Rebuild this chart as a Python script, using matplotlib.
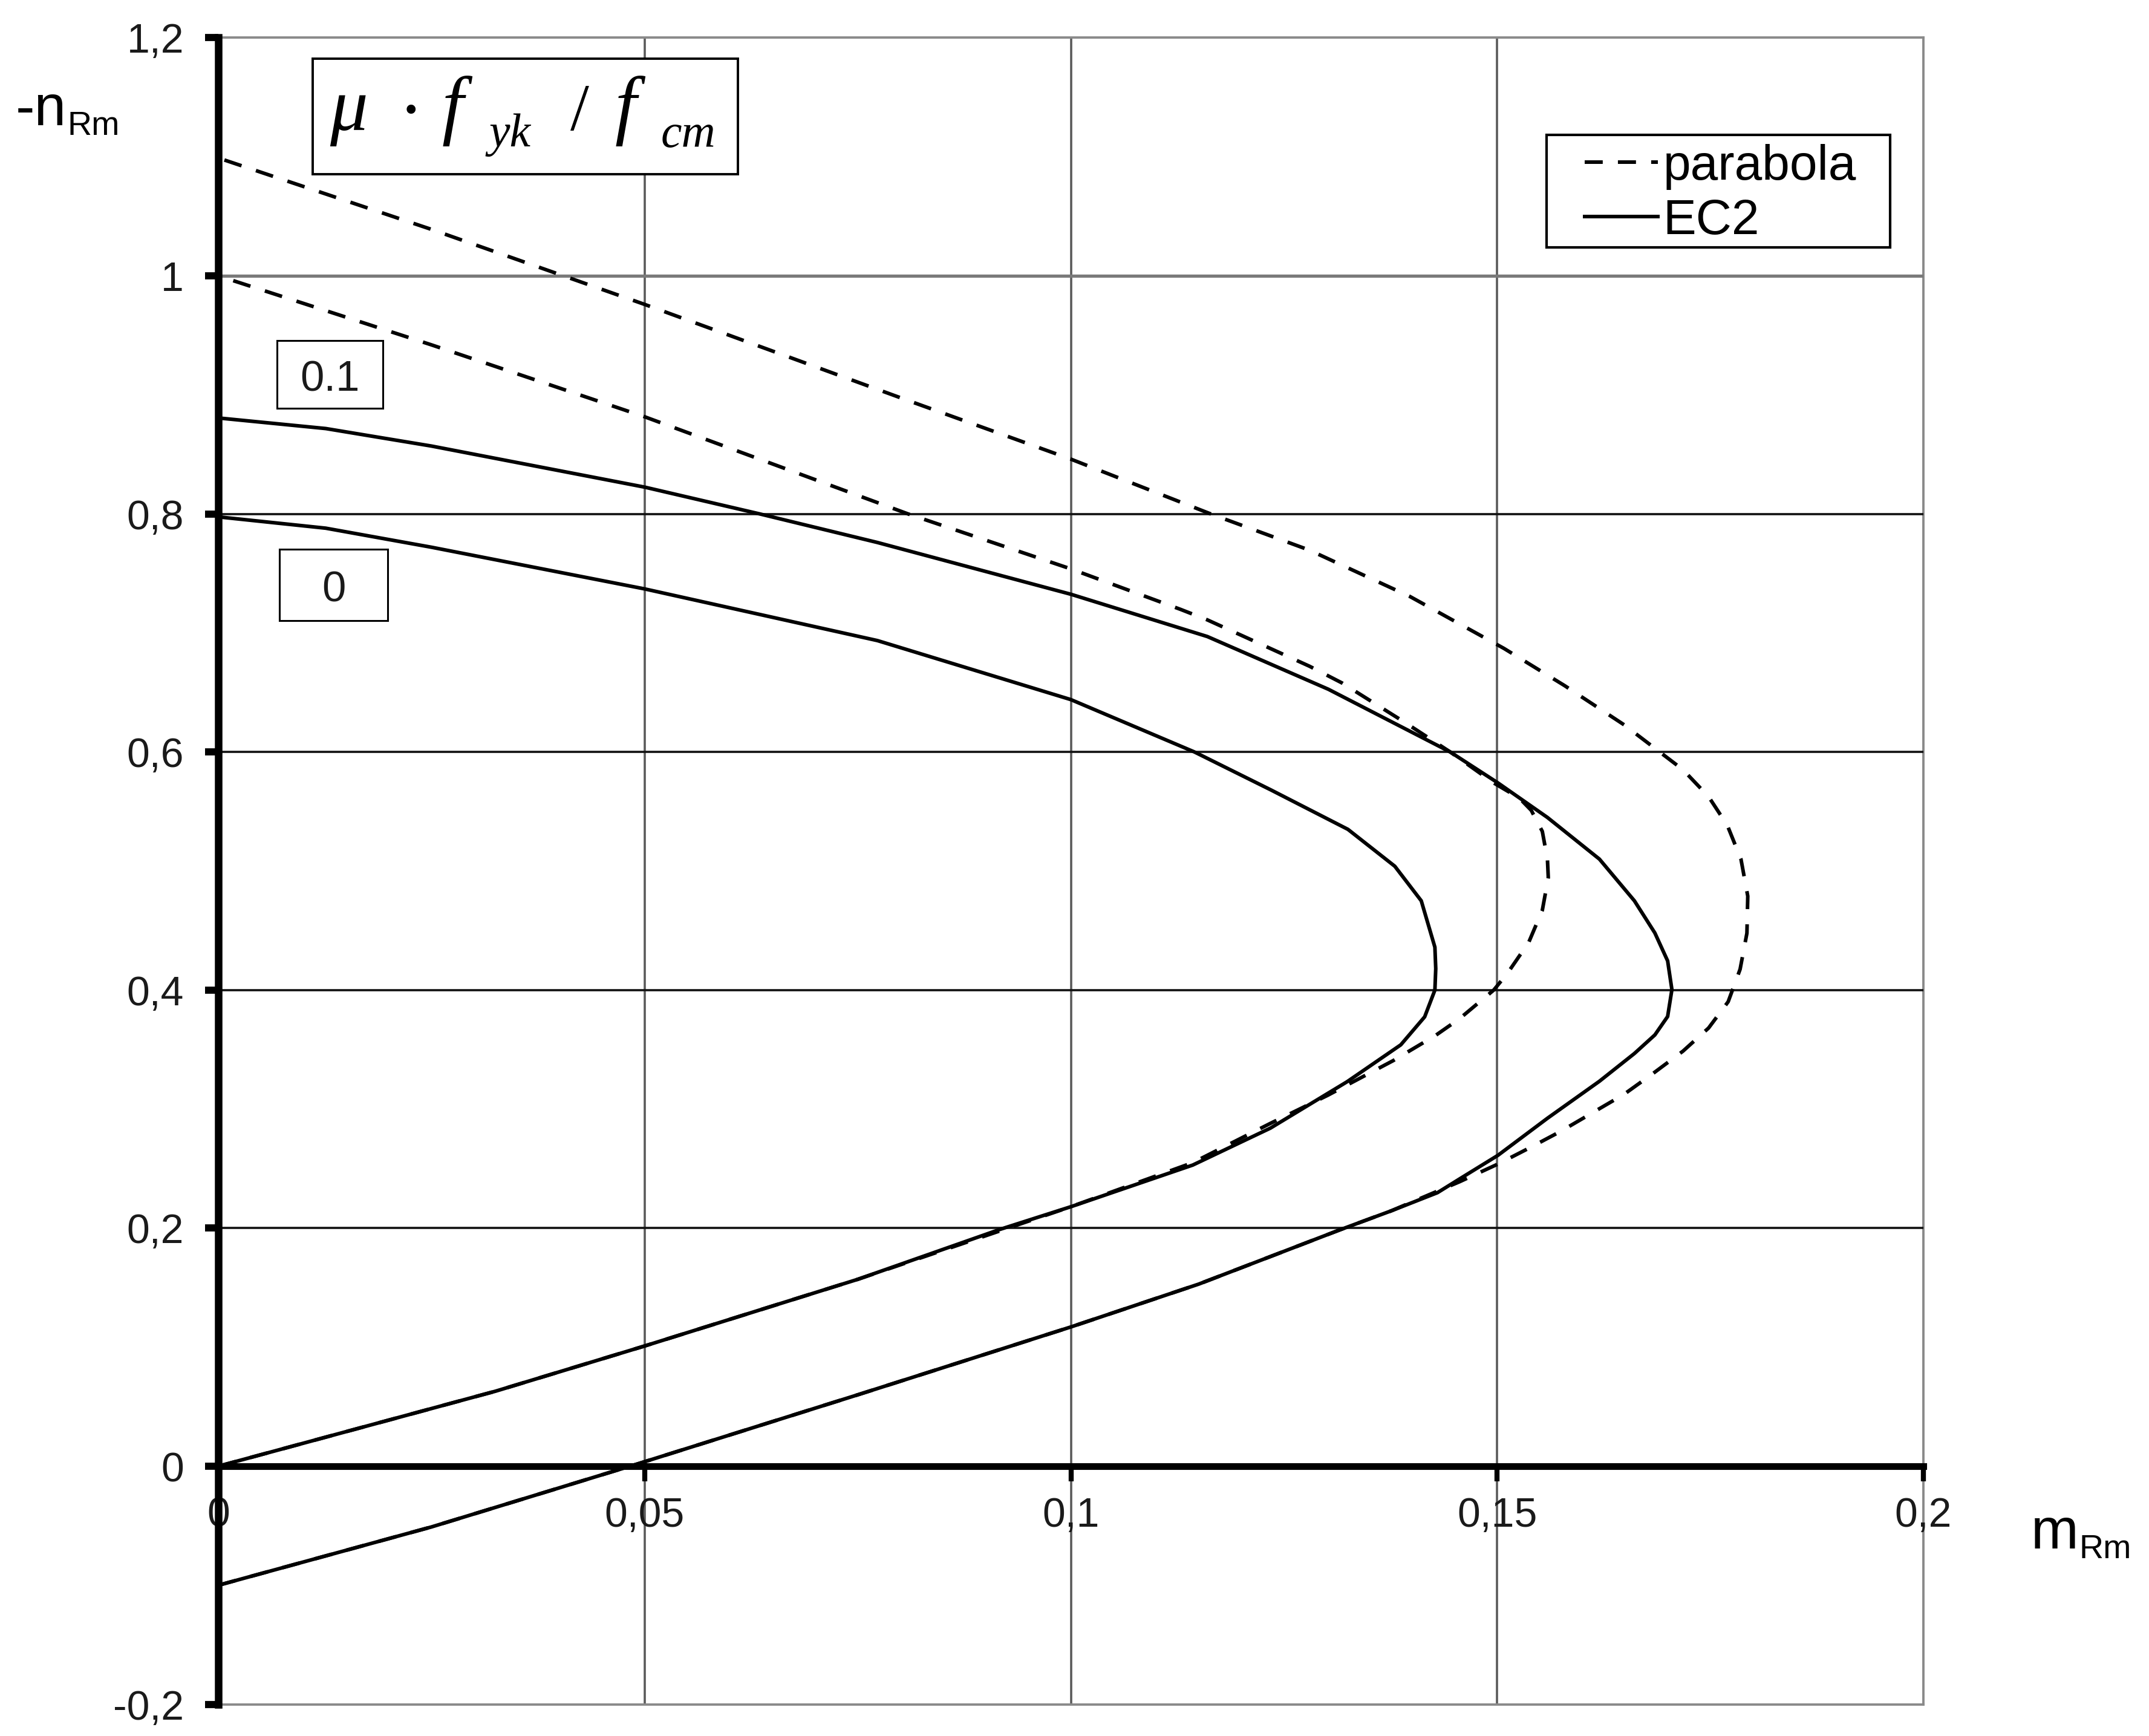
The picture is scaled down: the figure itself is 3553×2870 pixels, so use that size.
import matplotlib
matplotlib.use("Agg")
import matplotlib.pyplot as plt
from matplotlib.patches import Rectangle
from matplotlib import font_manager

plt.rcParams["font.family"] = ["Liberation Sans", "DejaVu Sans"]

# --- data (m_Rm, -n_Rm) ---
# EC2, mu*fyk/fcm = 0
m_ec2_0 = [0, 0.0325, 0.05, 0.075, 0.0917, 0.1, 0.1143, 0.1234, 0.1324, 0.1387,
           0.1415, 0.1427, 0.1428, 0.1427, 0.1411, 0.138, 0.1325, 0.1235, 0.1145,
           0.1, 0.0773, 0.05, 0.025, 0.0126, 0]
n_ec2_0 = [0, 0.063, 0.101, 0.157, 0.199, 0.218, 0.253, 0.284, 0.323, 0.354,
           0.3775, 0.40, 0.418, 0.436, 0.475, 0.504, 0.535, 0.568, 0.60,
           0.644, 0.6936, 0.737, 0.772, 0.788, 0.7975]

# EC2, mu*fyk/fcm = 0.1
m_ec2_1 = [0, 0.025, 0.0492, 0.075, 0.1, 0.115, 0.1316, 0.1376, 0.143, 0.1457,
           0.1501, 0.1559, 0.162, 0.1661, 0.1685, 0.170, 0.1705, 0.170, 0.1685,
           0.1661, 0.162, 0.1559, 0.1501, 0.1445, 0.1302, 0.116, 0.1, 0.0773,
           0.0635, 0.05, 0.025, 0.0126, 0]
n_ec2_1 = [-0.1, -0.051, 0.002, 0.06, 0.117, 0.153, 0.1987, 0.2146, 0.2298, 0.2418,
           0.2612, 0.2923, 0.3234, 0.3467, 0.3623, 0.3778, 0.4004, 0.4245, 0.448,
           0.475, 0.510, 0.545, 0.574, 0.600, 0.6527, 0.697, 0.7325, 0.776,
           0.80, 0.8225, 0.857, 0.8717, 0.8806]

# parabola, mu*fyk/fcm = 0
m_par_0 = [0, 0.0325, 0.05, 0.075, 0.1, 0.1143, 0.1234, 0.1301, 0.1378, 0.1428,
           0.1456, 0.1496, 0.1512, 0.1537, 0.1553, 0.156, 0.1559, 0.1553, 0.154,
           0.1526, 0.1496, 0.1445, 0.1391, 0.1318, 0.128, 0.116, 0.1129, 0.1,
           0.0809, 0.05, 0.025, 0]
n_par_0 = [0, 0.063, 0.101, 0.157, 0.218, 0.255, 0.288, 0.3115, 0.3407, 0.362,
           0.376, 0.40, 0.414, 0.440, 0.467, 0.4945, 0.510, 0.5333, 0.551,
           0.5613, 0.574, 0.60, 0.6252, 0.658, 0.672, 0.711, 0.7197, 0.7538,
           0.80, 0.8816, 0.942, 1.0]

# parabola, mu*fyk/fcm = 0.1
m_par_1 = [0, 0.025, 0.0492, 0.075, 0.1, 0.115, 0.1316, 0.1376, 0.1456, 0.1502,
           0.1539, 0.1575, 0.1612, 0.1649, 0.1683, 0.1718, 0.1748, 0.1771, 0.1785,
           0.1793, 0.1794, 0.1786, 0.177, 0.1748, 0.1718, 0.1649, 0.1579, 0.1508,
           0.1398, 0.128, 0.1164, 0.1, 0.0805, 0.05, 0.025, 0]
n_par_1 = [-0.1, -0.051, 0.002, 0.06, 0.117, 0.153, 0.1987, 0.2146, 0.239, 0.2542,
           0.2678, 0.2815, 0.297, 0.3125, 0.33, 0.3487, 0.3681, 0.3902, 0.4175,
           0.4478, 0.4789, 0.510, 0.5384, 0.5625, 0.5851, 0.6228, 0.6558, 0.687,
           0.7305, 0.7695, 0.80, 0.846, 0.8963, 0.976, 1.039, 1.099]

x_ticks = [0, 0.05, 0.1, 0.15, 0.2]
x_tick_labels = ["0", "0,05", "0,1", "0,15", "0,2"]
y_ticks = [-0.2, 0, 0.2, 0.4, 0.6, 0.8, 1.0, 1.2]
y_tick_labels = ["-0,2", "0", "0,2", "0,4", "0,6", "0,8", "1", "1,2"]
legend_labels = ["parabola", "EC2"]
curve_labels = ["0.1", "0"]

W, H = 3553, 2870

# tick labels in the reference are set in a narrow sans face
installed = {f.name for f in font_manager.fontManager.ttflist}
if "Liberation Sans Narrow" in installed:
    tick_family, tick_size = "Liberation Sans Narrow", 55
else:
    tick_family, tick_size = "Liberation Sans", 49


def fx(x):
    return x / W


def fy(y):
    return 1 - y / H


fig = plt.figure(figsize=(W / 100, H / 100), dpi=100)
ax = fig.add_axes([fx(361), fy(2817.6), (3180 - 361) / W, (2817.6 - 62.4) / H])
ax.set_xlim(0, 0.2)
ax.set_ylim(-0.2, 1.2)
tf = fig.transFigure

# grid and frame
for x in x_ticks[1:-1]:
    ax.axvline(x, color="#5a5a5a", lw=2.6, zorder=1)
ax.axvline(0.2, color="#8a8a8a", lw=2.8, zorder=1, clip_on=False)
for y in [0.2, 0.4, 0.6, 0.8]:
    ax.axhline(y, color="#111111", lw=2.6, zorder=1)
ax.axhline(1.0, color="#7a7a7a", lw=3.8, zorder=1)
ax.axhline(1.2, color="#8a8a8a", lw=2.8, zorder=1, clip_on=False)
ax.axhline(-0.2, color="#8a8a8a", lw=2.8, zorder=1, clip_on=False)

# curves
dash = (0, (5.0, 4.2))
lw = 4.3
l_par, = ax.plot(m_par_1, n_par_1, color="black", lw=lw, ls=dash, zorder=3)
ax.plot(m_par_0, n_par_0, color="black", lw=lw, ls=dash, zorder=3)
l_ec2, = ax.plot(m_ec2_1, n_ec2_1, color="black", lw=lw, zorder=3,
                 solid_joinstyle="round")
ax.plot(m_ec2_0, n_ec2_0, color="black", lw=lw, zorder=3, solid_joinstyle="round")

# axes spines
ax.spines["top"].set_visible(False)
ax.spines["right"].set_visible(False)
ax.spines["left"].set_linewidth(9)
ax.spines["bottom"].set_linewidth(8)
ax.spines["bottom"].set_position(("data", 0))
for s in ["left", "bottom"]:
    ax.spines[s].set_zorder(4)

ax.set_xticks(x_ticks)
ax.set_xticklabels(x_tick_labels)
ax.set_yticks(y_ticks)
ax.set_yticklabels(y_tick_labels)
ax.tick_params(axis="x", direction="out", length=18, width=6, pad=18,
               labelsize=tick_size, labelcolor="#1a1a1a",
               labelfontfamily=tick_family)
ax.tick_params(axis="y", direction="out", length=16, width=8.5, pad=25,
               labelsize=tick_size, labelcolor="#1a1a1a",
               labelfontfamily=tick_family)

# axis labels
ax.text(fx(26), fy(207), "-n", transform=tf, fontsize=68,
        ha="left", va="baseline")
ax.text(fx(112), fy(223), "Rm", transform=tf, fontsize=40,
        ha="left", va="baseline")
ax.text(fx(3358), fy(2560), "m", transform=tf, fontsize=68,
        ha="left", va="baseline", clip_on=False)
ax.text(fx(3438), fy(2576), "Rm", transform=tf, fontsize=40,
        ha="left", va="baseline", clip_on=False)

# formula box: mu * f_yk / f_cm
ax.add_patch(Rectangle((fx(517), fy(288)), (1220 - 517) / W, (288 - 97) / H,
                       transform=tf, facecolor="white", edgecolor="black",
                       lw=2.8, zorder=5, clip_on=False))
serif = dict(transform=tf, family="Liberation Serif", va="baseline", zorder=6)
ax.text(fx(545), fy(215), "\u03bc", fontsize=90, style="italic", ha="left", **serif)
ax.text(fx(679), fy(222), "\u00b7", fontsize=90, ha="center", **serif)
ax.text(fx(731), fy(215), "f", fontsize=92, style="italic", ha="left", **serif)
ax.text(fx(809), fy(242), "yk", fontsize=56, style="italic", ha="left", **serif)
ax.text(fx(943), fy(215), "/", fontsize=80, ha="left", **serif)
ax.text(fx(1017), fy(215), "f", fontsize=92, style="italic", ha="left", **serif)
ax.text(fx(1093), fy(243), "cm", fontsize=56, style="italic", ha="left", **serif)

# curve labels
label_boxes = [(458, 563, 633, 675), (462, 908, 641, 1026)]
for text, (x0, y0, x1, y1) in zip(curve_labels, label_boxes):
    ax.add_patch(Rectangle((fx(x0), fy(y1)), (x1 - x0) / W, (y1 - y0) / H,
                           transform=tf, facecolor="white", edgecolor="black",
                           lw=2.2, zorder=5, clip_on=False))
    ax.text(fx((x0 + x1) / 2), fy((y0 + y1) / 2 + 2), text, transform=tf,
            fontsize=51, ha="center", va="center_baseline", zorder=6,
            color="#1a1a1a")

# legend
ax.add_patch(Rectangle((fx(2557), fy(408.5)), 568 / W, 185 / H,
                       transform=tf, facecolor="white", edgecolor="black",
                       lw=3.0, zorder=4, clip_on=False))
leg = ax.legend([l_par, l_ec2], legend_labels, loc="upper left",
                bbox_to_anchor=(fx(2620), fy(238)), bbox_transform=tf,
                frameon=False, fontsize=59, handlelength=1.48,
                handletextpad=0.1, labelspacing=0.17, borderpad=0,
                borderaxespad=0)
leg.set_zorder(6)

fig.savefig("out.png", dpi=100)
